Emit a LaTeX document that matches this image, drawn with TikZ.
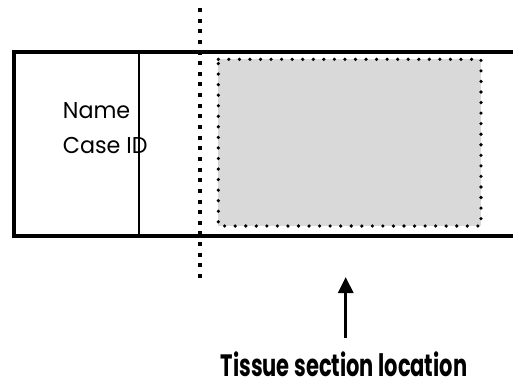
\documentclass[tikz,border=0pt]{standalone}
\usepackage{fontspec}
\usetikzlibrary{arrows.meta,decorations.markings}
\setmainfont{Poppins}
\newfontfamily\txtfont{Poppins}[FakeStretch=0.97]
\newfontfamily\labelfont{Poppins}[FakeStretch=0.68]
\begin{document}
\begin{tikzpicture}[x=1bp,y=-1bp,
  slideedge/.style={line width=4bp},
  divider/.style={line width=1.6bp},
  cutline/.style={line width=4bp, dash pattern=on 4bp off 6.64bp},
  tissuefill/.style={fill=black!15, draw=none},
  tissuedots/.style={decorate, decoration={markings,
      mark=between positions 0 and 1 step 10.55bp with {\fill[black] (0,0) circle (1.8bp);}}},
  arrowline/.style={line width=3bp, -{Triangle[length=16bp,width=15bp]}},
  txt/.style={font=\txtfont\fontsize{23}{28}\selectfont, inner sep=0pt},
  lbl/.style={font=\labelfont\bfseries\fontsize{31}{36}\selectfont, inner sep=0pt}
]
\useasboundingbox (0,0) rectangle (513,383);
% slide outline
\draw[slideedge] (520,51.7) -- (13.5,51.7) -- (13.5,236) -- (520,236);
\draw[divider] (139,51.7) -- (139,236);
% tissue area
\fill[tissuefill] (218.3,59.3) rectangle (481,226);
\path[tissuedots] (218.3,59.3) -- (481,59.3) -- (481,226) -- (218.3,226) -- cycle;
% cut line
\draw[cutline] (199.5,8) -- (199.5,280);
% texts
\node[txt, anchor=base west] (name) at (62.7,118.3) {Name};
\node[txt, anchor=base west] (caseid) at (62.7,153.3) {Case ID};
\node[lbl, anchor=base] (label) at (344,376) {Tissue section location};
\coordinate (tip) at (345.7,277);
\draw[arrowline] (label.north -| tip) ++(0,-13) -- (tip);
\end{tikzpicture}
\end{document}
